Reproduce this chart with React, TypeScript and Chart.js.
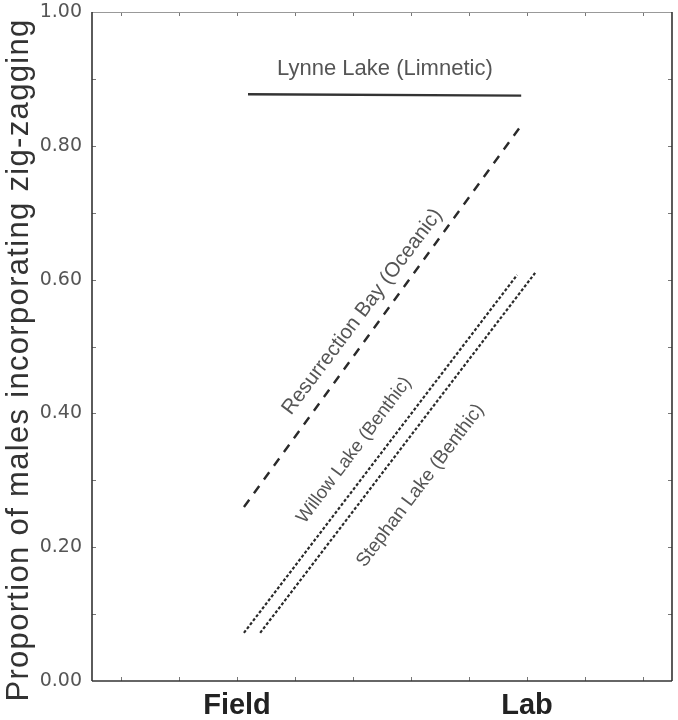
import React, { useEffect, useRef } from "react";
import { Chart, registerables } from "chart.js";

Chart.register(...registerables);

// ---- data ----
const xTickPositions = [2.5, 7.5];
const xTickLabels = ["Field", "Lab"];
const xMinorTicks = [0.5, 1.5, 2.5, 3.5, 4.5, 5.5, 6.5, 7.5, 8.5, 9.5];
const yTickValues = [0, 0.2, 0.4, 0.6, 0.8, 1.0];
const yMinorTicks = [0.1, 0.2, 0.3, 0.4, 0.5, 0.6, 0.7, 0.8, 0.9];

const seriesNames = [
  "Lynne Lake (Limnetic)",
  "Resurrection Bay (Oceanic)",
  "Willow Lake (Benthic)",
  "Stephan Lake (Benthic)",
];
const lynneX = [2.69, 7.4];
const lynneY = [0.877, 0.875];
const resurrectionX = [2.62, 7.43];
const resurrectionY = [0.26, 0.834];
const willowX = [2.62, 7.33];
const willowY = [0.072, 0.607];
const stephanX = [2.9, 7.64];
const stephanY = [0.072, 0.61];

// label anchor positions (data coordinates) and angles
const labelX = [5.05, 4.66, 4.52, 5.66];
const labelY = [0.915, 0.552, 0.345, 0.292];
const labelAngle = [0, -53, -53, -53];
const labelSize = [22, 20.5, 18.5, 19];

const yTitle = "Proportion of males incorporating zig-zagging";

const pts = (xs: number[], ys: number[]) => xs.map((x, i) => ({ x, y: ys[i] }));

const decor = {
  id: "decor",
  afterDraw(chart: any) {
    const { ctx, chartArea: a, scales } = chart;
    const xs = scales.x;
    const ys = scales.y;
    ctx.save();
    const line = (x1: number, y1: number, x2: number, y2: number) => {
      ctx.beginPath();
      ctx.moveTo(x1, y1);
      ctx.lineTo(x2, y2);
      ctx.stroke();
    };
    // inward ticks
    ctx.strokeStyle = "#777";
    ctx.lineWidth = 1;
    xMinorTicks.forEach((v) => {
      const px = Math.round(xs.getPixelForValue(v)) + 0.5;
      line(px, a.bottom, px, a.bottom - 4);
      line(px, a.top, px, a.top + 4);
    });
    yMinorTicks.forEach((v) => {
      const py = Math.round(ys.getPixelForValue(v)) + 0.5;
      line(a.left, py, a.left + 4, py);
      line(a.right, py, a.right - 4, py);
    });
    // frame
    ctx.strokeStyle = "#999";
    ctx.lineWidth = 1;
    line(a.left, a.top + 0.5, a.right, a.top + 0.5);
    ctx.strokeStyle = "#333";
    ctx.lineWidth = 1.6;
    line(a.left, a.top, a.left, a.bottom);
    line(a.left, a.bottom, a.right, a.bottom);
    line(a.right, a.top, a.right, a.bottom);

    // series labels
    seriesNames.forEach((name, i) => {
      ctx.save();
      ctx.translate(xs.getPixelForValue(labelX[i]), ys.getPixelForValue(labelY[i]));
      ctx.rotate((labelAngle[i] * Math.PI) / 180);
      ctx.font = labelSize[i] + "px 'Liberation Sans', Arial, sans-serif";
      ctx.textAlign = "center";
      ctx.textBaseline = "middle";
      ctx.fillStyle = "#555";
      ctx.fillText(name, 0, 0);
      ctx.restore();
    });

    // y-axis title
    ctx.save();
    ctx.translate(19, 360);
    ctx.rotate(-Math.PI / 2);
    ctx.font = "31px 'Liberation Sans', Arial, sans-serif";
    const w = ctx.measureText(yTitle).width;
    const target = 682;
    const ls = Math.max(0, (target - w) / (yTitle.length - 1));
    (ctx as any).letterSpacing = ls.toFixed(2) + "px";
    const w2 = ctx.measureText(yTitle).width;
    ctx.textAlign = "left";
    ctx.textBaseline = "middle";
    ctx.fillStyle = "#333";
    ctx.fillText(yTitle, -w2 / 2, 0);
    ctx.restore();

    ctx.restore();
  },
};

export default function App() {
  const ref = useRef<HTMLCanvasElement | null>(null);
  useEffect(() => {
    if (!ref.current) return;
    const common = { pointRadius: 0, showLine: true, fill: false, borderColor: "#2a2a2a", tension: 0 };
    const chart = new Chart(ref.current, {
      type: "scatter",
      data: {
        datasets: [
          { ...common, label: seriesNames[0], data: pts(lynneX, lynneY), borderWidth: 2.4, borderColor: "#333" },
          { ...common, label: seriesNames[1], data: pts(resurrectionX, resurrectionY), borderWidth: 2.4, borderDash: [9, 8] },
          { ...common, label: seriesNames[2], data: pts(willowX, willowY), borderWidth: 2.2, borderDash: [3, 2] },
          { ...common, label: seriesNames[3], data: pts(stephanX, stephanY), borderWidth: 2.2, borderDash: [3, 2] },
        ],
      },
      options: {
        animation: false,
        responsive: false,
        layout: { padding: { top: 12, right: 6, left: 0, bottom: 0 } },
        plugins: { legend: { display: false }, tooltip: { enabled: false } },
        scales: {
          x: {
            type: "linear",
            min: 0,
            max: 10,
            afterBuildTicks: (s: any) => {
              s.ticks = xMinorTicks.map((v) => ({ value: v }));
            },
            afterFit: (s: any) => {
              s.height = 39;
              s.paddingLeft = 0;
              s.paddingRight = 0;
            },
            grid: { display: false, drawTicks: false },
            border: { display: false },
            ticks: {
              autoSkip: false,
              maxRotation: 0,
              padding: 8,
              color: "#222",
              font: { family: "'Liberation Sans', Arial, sans-serif", size: 29, weight: "bold" },
              callback: (v: any) => {
                const i = xTickPositions.indexOf(Number(v));
                return i >= 0 ? xTickLabels[i] : "";
              },
            },
          },
          y: {
            min: 0,
            max: 1,
            afterBuildTicks: (s: any) => {
              s.ticks = yTickValues.map((v) => ({ value: v }));
            },
            afterFit: (s: any) => {
              s.width = 92;
              s.paddingTop = 0;
              s.paddingBottom = 0;
            },
            grid: { display: false, drawTicks: false },
            border: { display: false },
            ticks: {
              padding: 10,
              color: "#555",
              font: { family: "'DejaVu Sans', sans-serif", size: 19 },
              callback: (v: any) => Number(v).toFixed(2),
            },
          },
        },
      },
      plugins: [decor],
    });
    return () => chart.destroy();
  }, []);
  return (
    <div style={{ position: "fixed", left: 0, top: 0, width: 678, height: 720, background: "#fff" }}>
      <canvas ref={ref} width={678} height={720} style={{ display: "block" }} />
    </div>
  );
}
